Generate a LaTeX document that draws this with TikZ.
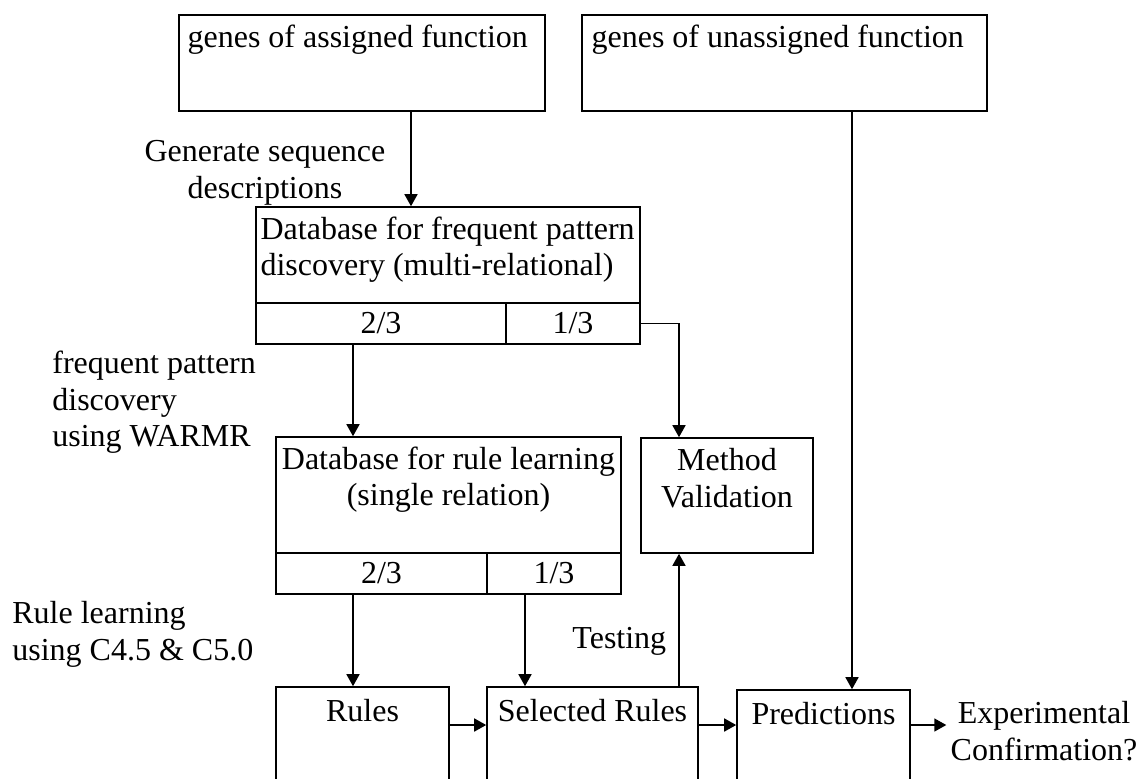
\documentclass[tikz,border=0pt]{standalone}
\usepackage{fontspec}
\setmainfont{Liberation Serif}
\tikzstyle{box}=[draw,rectangle,thick,inner sep=0pt,font=\fontsize{16pt}{18.25pt}\selectfont]
\tikzstyle{txt}=[inner sep=0pt,align=center,font=\fontsize{16pt}{18.25pt}\selectfont]
\tikzstyle{edge} = [draw,thick,-{Triangle[length=6pt,width=6.5pt]}]
\usetikzlibrary{calc,arrows.meta,positioning}
\begin{document}
\begin{tikzpicture}[x=0.5pt,y=-0.5pt]
\clip (0,0) rectangle (1140,778);
\node[box,minimum width=183pt,minimum height=48pt] (1) at (362,63) {};
\node[box,minimum width=202.5pt,minimum height=48pt] (2) at (784.5,63) {};
\node[txt,align=left,below right=5pt and 4.5pt of 1.north west] (t1) {genes of assigned function};
\node[txt,align=left,below right=5pt and 5pt of 2.north west] (t2) {genes of unassigned function};

\node[box,minimum width=192pt,minimum height=48pt] (3) at (448,255) {};
\node[txt,align=left,below right=5pt and 2.5pt of 3.north west] (t3) {Database for frequent pattern\\discovery (multi-relational)};
\node[box,minimum width=125pt,minimum height=20.5pt] (4) at (381,323.5) {2/3};
\node[box,minimum width=67pt,minimum height=20.5pt] (5) at (573,323.5) {1/3};

\node[box,minimum width=172.5pt,minimum height=58pt] (6) at (448.5,495) {};
\node[txt,below=5pt of 6.north] (t6) {Database for rule learning\\(single relation)};
\node[box,minimum width=105.5pt,minimum height=20.5pt] (7) at (381.5,573.5) {2/3};
\node[box,minimum width=67pt,minimum height=20.5pt] (8) at (554,573.5) {1/3};

\node[box,minimum width=86pt,minimum height=57.5pt] (9) at (727,495.5) {};
\node[txt,below=5.5pt of 9.north] (t9) {Method\\Validation};

\node[box,minimum width=86.5pt,minimum height=56.5pt] (10) at (362.5,743.5) {};
\node[txt,below=6.5pt of 10.north] (t10) {Rules};
\node[box,minimum width=105.5pt,minimum height=56.5pt] (11) at (592.5,743.5) {};
\node[txt,below=6.5pt of 11.north] (t11) {Selected Rules};
\node[box,minimum width=86.5pt,minimum height=55pt] (12) at (823.5,745) {};
\node[txt,below=6.5pt of 12.north] (t12) {Predictions};
\node[txt,inner xsep=2pt,anchor=north] (13) at (1044,701) {Experimental\\Confirmation?};

% step labels on the left
\node[txt,anchor=north] (l1) at (265,140) {Generate sequence\\descriptions};
\node[txt,align=left,anchor=north west] (l2) at (52,351) {frequent pattern\\discovery\\using WARMR};
\node[txt,align=left,anchor=north west] (l3) at (12,601) {Rule learning\\using C4.5 \& C5.0};

% columns and row of the connectors
\coordinate (c1) at (411,0);
\coordinate (c2) at (852,0);
\coordinate (c3) at (353,0);
\coordinate (c4) at (525,0);
\coordinate (c5) at (679,0);
\coordinate (r1) at (0,725);

 \path[edge] (1.south -| c1) -- (3.north -| c1);
 \path[edge] (2.south -| c2) -- (12.north -| c2);
 \path[edge] (4.south -| c3) -- (6.north -| c3);
 \path[edge] (5.east) -| (9.north -| c5);
 \path[edge] (7.south -| c3) -- (10.north -| c3);
 \path[edge] (8.south -| c4) -- (11.north -| c4);
 \path[edge] (11.north -| c5) -- node[txt,pos=0.34,left=6pt] {Testing} (9.south -| c5);
 \path[edge] (10.east |- r1) -- (11.west |- r1);
 \path[edge] (11.east |- r1) -- (12.west |- r1);
 \path[edge] (12.east |- r1) -- (13.west |- r1);
\end{tikzpicture}
\end{document}
